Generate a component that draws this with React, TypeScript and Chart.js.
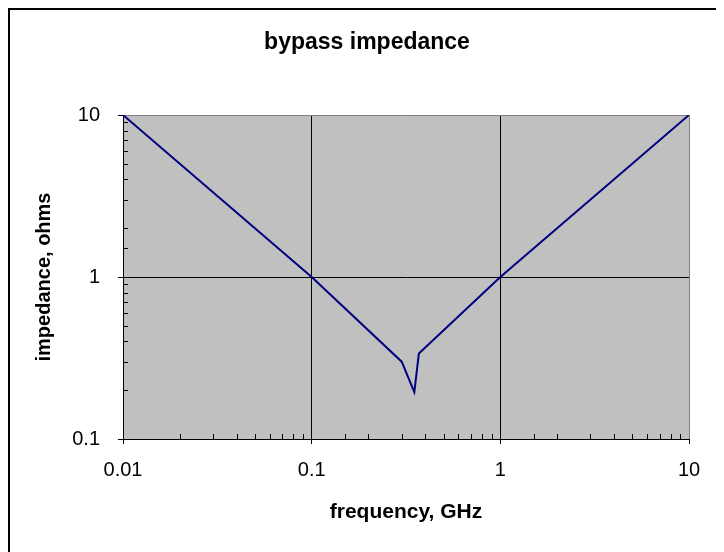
import React, { useEffect, useRef } from "react";
import { Chart, registerables } from "chart.js";

Chart.register(...registerables);

const frequencyGHz = [0.01, 0.1, 0.3, 0.35, 0.37, 1, 10];
const impedanceOhms = [10, 1, 0.3, 0.195, 0.337, 1, 10];
const decadeLabelsX = ["0.01", "0.1", "1", "10"];
const decadeLabelsY = ["0.1", "1", "10"];

const FONT = "'Liberation Sans', Arial, sans-serif";

const isDecade = (v: number) => Math.abs(Math.log10(v) - Math.round(Math.log10(v))) < 1e-6;

const fmt = (v: number) => String(parseFloat(v.toPrecision(6)));

const plotBg = {
  id: "plotBg",
  beforeDraw(chart: any) {
    const { ctx, chartArea } = chart;
    ctx.save();
    ctx.fillStyle = "#C0C0C0";
    ctx.fillRect(chartArea.left, chartArea.top, chartArea.right - chartArea.left, chartArea.bottom - chartArea.top);
    ctx.restore();
  },
  afterDatasetsDraw(chart: any) {
    const { ctx, chartArea } = chart;
    const xs = chart.scales.x;
    const ys = chart.scales.y;
    ctx.save();
    ctx.strokeStyle = "#000";
    ctx.lineWidth = 1;
    ctx.beginPath();
    xs.ticks.forEach((t: any) => {
      if (isDecade(t.value)) return;
      const px = Math.round(xs.getPixelForValue(t.value)) + 0.5;
      ctx.moveTo(px, chartArea.bottom);
      ctx.lineTo(px, chartArea.bottom - 5);
    });
    ys.ticks.forEach((t: any) => {
      if (isDecade(t.value)) return;
      const py = Math.round(ys.getPixelForValue(t.value)) + 0.5;
      ctx.moveTo(chartArea.left, py);
      ctx.lineTo(chartArea.left + 5, py);
    });
    ctx.stroke();
    ctx.restore();
  },
};

const gridColor = (c: any) => {
  const v = c.tick ? c.tick.value : 0;
  if (!isDecade(v)) return "rgba(0,0,0,0)";
  if (Math.abs(v - 10) < 1e-9) return "#808080";
  return "#000";
};
const tickColor = (c: any) => (c.tick && isDecade(c.tick.value) ? "#000" : "rgba(0,0,0,0)");

export default function App() {
  const ref = useRef<HTMLCanvasElement>(null);
  useEffect(() => {
    if (!ref.current) return;
    const chart = new Chart(ref.current, {
      type: "scatter",
      data: {
        datasets: [
          {
            data: frequencyGHz.map((f, i) => ({ x: f, y: impedanceOhms[i] })),
            showLine: true,
            borderColor: "#000080",
            backgroundColor: "#000080",
            borderWidth: 2,
            pointRadius: 0,
            tension: 0,
          },
        ],
      },
      options: {
        responsive: false,
        animation: false,
        layout: { padding: { left: 35, right: 35, top: 0, bottom: 0 } },
        plugins: {
          legend: { display: false },
          tooltip: { enabled: false },
          title: {
            display: true,
            text: "bypass impedance",
            color: "#000",
            font: { family: FONT, size: 23, weight: "bold", lineHeight: 1.2 },
            padding: { top: 19.2, bottom: 58.2 },
          },
        },
        scales: {
          x: {
            type: "logarithmic",
            min: 0.01,
            max: 10,
            afterFit: (s: any) => {
              s.height = 113;
            },
            border: { display: true, color: "#000", width: 1 },
            grid: {
              drawOnChartArea: true,
              drawTicks: true,
              tickLength: 5,
              color: gridColor,
              tickColor: tickColor,
              lineWidth: 1,
            },
            ticks: {
              autoSkip: false,
              maxRotation: 0,
              minRotation: 0,
              padding: 14,
              color: "#000",
              font: { family: FONT, size: 20 },
              callback: (v: any) => {
                const s = fmt(Number(v));
                return decadeLabelsX.includes(s) ? s : "";
              },
            },
            title: {
              display: true,
              text: "frequency, GHz",
              color: "#000",
              font: { family: FONT, size: 21, weight: "bold", lineHeight: 1.2 },
              padding: { top: 0, bottom: 27.4 },
            },
          },
          y: {
            type: "logarithmic",
            min: 0.1,
            max: 10,
            afterFit: (s: any) => {
              s.width = 78;
            },
            border: { display: true, color: "#000", width: 1 },
            grid: {
              drawOnChartArea: true,
              drawTicks: true,
              tickLength: 5,
              color: gridColor,
              tickColor: tickColor,
              lineWidth: 1,
            },
            ticks: {
              autoSkip: false,
              padding: 18,
              color: "#000",
              font: { family: FONT, size: 20 },
              callback: (v: any) => {
                const s = fmt(Number(v));
                return decadeLabelsY.includes(s) ? s : "";
              },
            },
            title: {
              display: true,
              text: "impedance, ohms",
              color: "#000",
              font: { family: FONT, size: 20, weight: "bold", lineHeight: 1.2 },
              padding: { top: -13, bottom: 0 },
            },
          },
        },
      },
      plugins: [plotBg],
    });
    return () => chart.destroy();
  }, []);

  return (
    <div
      style={{
        width: 716,
        height: 544,
        boxSizing: "border-box",
        borderLeft: "2px solid #000",
        borderTop: "2px solid #000",
        overflow: "hidden",
        background: "#fff",
      }}
    >
      <canvas ref={ref} width={714} height={542} style={{ display: "block", width: 714, height: 542 }} />
    </div>
  );
}
